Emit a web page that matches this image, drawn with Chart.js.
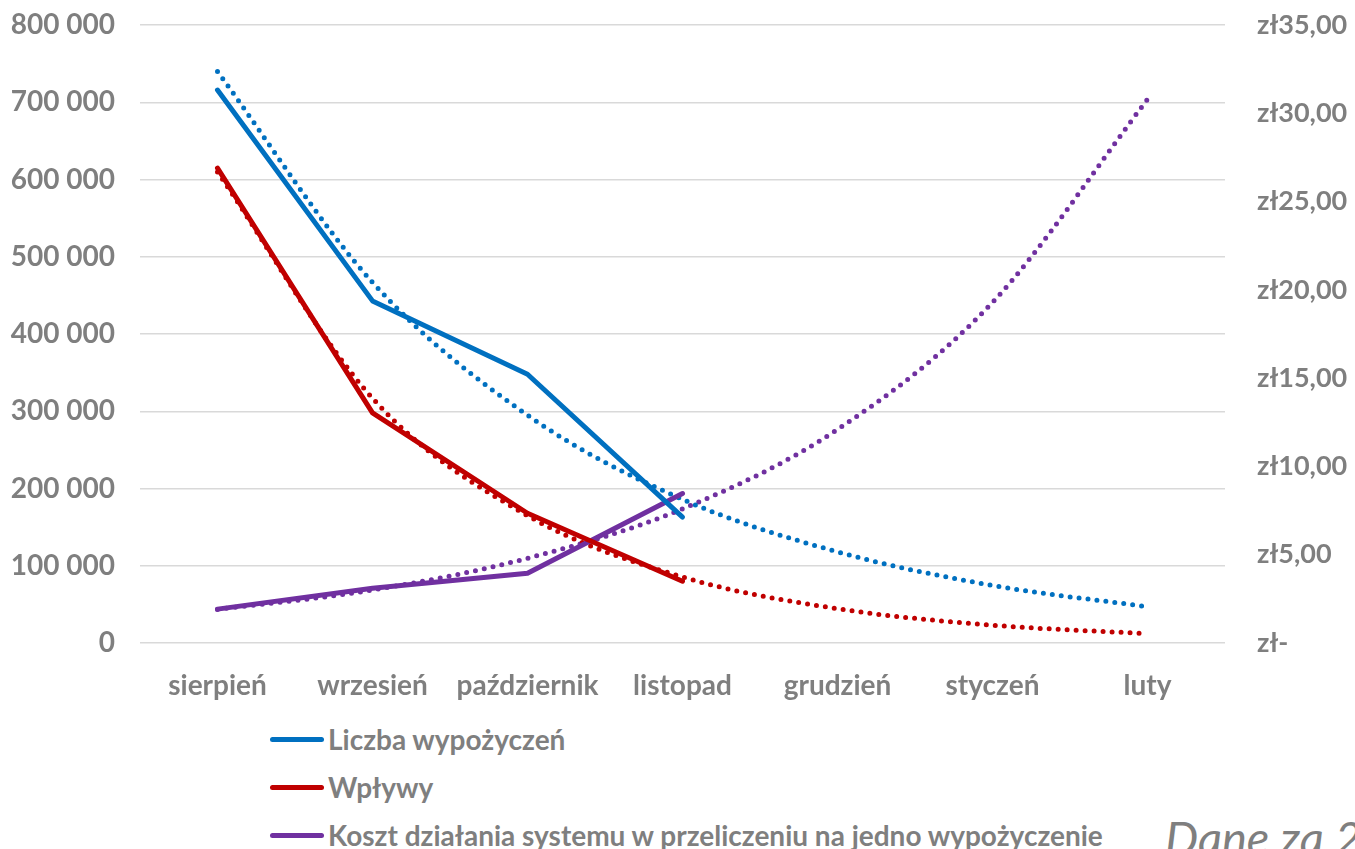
<!DOCTYPE html>
<html lang="pl">
<head>
<meta charset="utf-8">
<script src="https://cdn.jsdelivr.net/npm/chart.js@4"></script>
<style>
  body { margin: 0; background: #fff; width: 1355px; height: 849px; overflow: hidden; position: relative; font-family: Lato, sans-serif; }
  #wrap { position: absolute; left: 0; top: -23px; width: 1355px; height: 733px; }
  .leg { position: absolute; left: 270px; display: flex; align-items: center; color: #7f7f7f; font-weight: bold; font-size: 28px; white-space: nowrap; }
  .leg span.ln { display: inline-block; width: 54px; height: 5px; border-radius: 3px; margin-right: 4px; }
  #dane { position: absolute; left: 1165px; top: 809px; font-size: 47px; font-style: italic; color: #7f7f7f; white-space: nowrap; }
</style>
</head>
<body>
<div id="wrap"><canvas id="myChart"></canvas></div>
<div class="leg" style="top:722px"><span class="ln" style="background:#0070C0"></span>Liczba wypożyczeń</div>
<div class="leg" style="top:770px"><span class="ln" style="background:#C00000"></span>Wpływy</div>
<div class="leg" style="top:818px"><span class="ln" style="background:#7030A0"></span>Koszt działania systemu w przeliczeniu na jedno wypożyczenie</div>
<div id="dane">Dane za 2019</div>
<script>
// dane
const miesiace = ['sierpień', 'wrzesień', 'październik', 'listopad', 'grudzień', 'styczeń', 'luty'];
const wypozyczenia = [716000, 443000, 348000, 163000];
const wplywy = [615000, 298000, 168000, 80000];
const koszt = [1.92, 3.1, 3.95, 8.47];
// linie trendu
const trendWypozyczenia = [740000, 467000, 295000, 186000, 118000, 74500, 47000];
const trendWplywy = [610000, 317000, 165000, 85500, 44400, 23100, 12000];
const trendKoszt = [1.9, 3.0, 4.8, 7.6, 12.1, 19.3, 30.8];

const szary = '#7f7f7f';
const font = { family: 'Lato', weight: 'bold', size: 28 };

function kropki(data, kolor, os) {
    return {
        data: data,
        yAxisID: os,
        borderColor: kolor,
        borderWidth: 5,
        borderDash: [0, 9],
        borderCapStyle: 'round',
        pointRadius: 0,
        cubicInterpolationMode: 'monotone',
        order: 2
    };
}

function linia(data, kolor, os) {
    return {
        data: data,
        yAxisID: os,
        borderColor: kolor,
        borderWidth: 5,
        borderCapStyle: 'round',
        borderJoinStyle: 'round',
        pointRadius: 0,
        tension: 0,
        order: 1
    };
}

const wykres = document.getElementById('myChart');
new Chart(wykres, {
    type: 'line',
    data: {
        labels: miesiace,
        datasets: [
            linia(wypozyczenia, '#0070C0', 'y'),
            linia(wplywy, '#C00000', 'y'),
            linia(koszt, '#7030A0', 'y1'),
            kropki(trendWypozyczenia, '#0070C0', 'y'),
            kropki(trendWplywy, '#C00000', 'y'),
            kropki(trendKoszt, '#7030A0', 'y1')
        ]
    },
    options: {
        responsive: true,
        maintainAspectRatio: false,
        animation: false,
        layout: { padding: 0 },
        plugins: { legend: { display: false }, tooltip: { enabled: false } },
        scales: {
            x: {
                offset: true,
                grid: { display: false },
                border: { display: false },
                ticks: { color: szary, font: font, padding: 18, maxRotation: 0 },
                afterFit: function (s) { s.height = 67; }
            },
            y: {
                position: 'left',
                min: 0,
                max: 800000,
                ticks: {
                    stepSize: 100000,
                    color: szary,
                    font: font,
                    padding: 25,
                    callback: function (v) { return String(v).replace(/\B(?=(\d{3})+(?!\d))/g, ' '); }
                },
                grid: { color: '#d9d9d9', lineWidth: 1.5, drawTicks: false },
                border: { display: false },
                afterFit: function (s) { s.width = 140; }
            },
            y1: {
                position: 'right',
                min: 0,
                max: 35,
                ticks: {
                    stepSize: 5,
                    color: szary,
                    font: { family: 'Lato', weight: 'bold', size: 27 },
                    padding: 32,
                    callback: function (v) { return v === 0 ? 'zł-' : 'zł' + v.toFixed(2).replace('.', ','); }
                },
                grid: { display: false, drawTicks: false },
                border: { display: false },
                afterFit: function (s) { s.width = 130; }
            }
        }
    }
});
</script>
</body>
</html>
